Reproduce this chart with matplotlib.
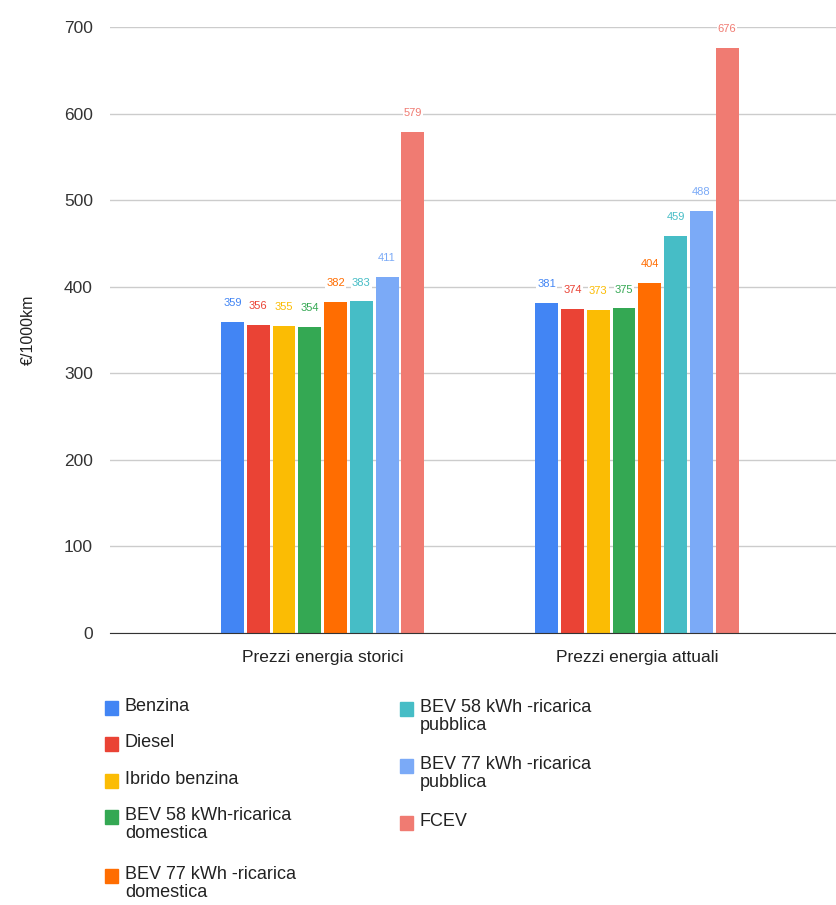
import matplotlib.pyplot as plt
import numpy as np
from matplotlib.patches import Rectangle

categories = ['Prezzi energia storici', 'Prezzi energia attuali']
series = ['Benzina', 'Diesel', 'Ibrido benzina', 'BEV 58 kWh-ricarica\ndomestica',
          'BEV 77 kWh -ricarica\ndomestica', 'BEV 58 kWh -ricarica\npubblica',
          'BEV 77 kWh -ricarica\npubblica', 'FCEV']
values = [
    [359, 381],
    [356, 374],
    [355, 373],
    [354, 375],
    [382, 404],
    [383, 459],
    [411, 488],
    [579, 676],
]
colors = ['#4285F4', '#EA4335', '#FBBC04', '#34A853', '#FF6D01', '#46BDC6', '#7BAAF7', '#F07B72']

plt.rcParams['font.family'] = ['Liberation Sans', 'DejaVu Sans']

fig = plt.figure(figsize=(8.37, 9.05), dpi=100)
ax = fig.add_axes([0.131, 0.3006, 0.869, 0.6694])

x = np.arange(len(categories))
slot = 0.082
width = 0.073
n = len(series)
for i, (name, vals) in enumerate(zip(series, values)):
    pos = x + (i - (n - 1) / 2) * slot
    ax.bar(pos, vals, width=width, color=colors[i], zorder=3)
    for px, v in zip(pos, vals):
        ax.annotate(str(v), (px, v), xytext=(0, 10), textcoords='offset points',
                    ha='center', va='bottom', fontsize=8, color=colors[i],
                    bbox=dict(boxstyle='square,pad=0.1', fc='white', ec='none'),
                    zorder=4)

ax.set_ylim(0, 700)
ax.set_xlim(-0.678, 1.637)
ax.set_yticks(range(0, 701, 100))
ax.set_xticks(x)
ax.set_xticklabels(categories, fontsize=12.5, color='#222222')
ax.tick_params(axis='y', labelsize=12.5, labelcolor='#333333', length=0, pad=12)
ax.tick_params(axis='x', length=0, pad=12)
ax.grid(axis='y', color='#cccccc', linewidth=1, zorder=0)
for s in ['top', 'right', 'left']:
    ax.spines[s].set_visible(False)
ax.spines['bottom'].set_color('#333333')
ax.spines['bottom'].set_zorder(5)
ax.set_ylabel('€/1000km', fontsize=11.5, color='#222222', labelpad=20)

# legend, drawn by hand in two columns
W, H = 837, 905
legend_pos = [
    (105, 708), (105, 744), (105, 781), (105, 817), (105, 876),
    (400, 709), (400, 766), (400, 823),
]
for (lx, ly), name, c in zip(legend_pos, series, colors):
    fig.patches.append(Rectangle((lx / W, 1 - (ly + 7) / H), 13 / W, 14 / H,
                                 transform=fig.transFigure, color=c))
    fig.text((lx + 20) / W, 1 - (ly - 10) / H, name, fontsize=13, color='#222222',
             va='top', ha='left', linespacing=1.05)

fig.savefig('out.png', dpi=100)
